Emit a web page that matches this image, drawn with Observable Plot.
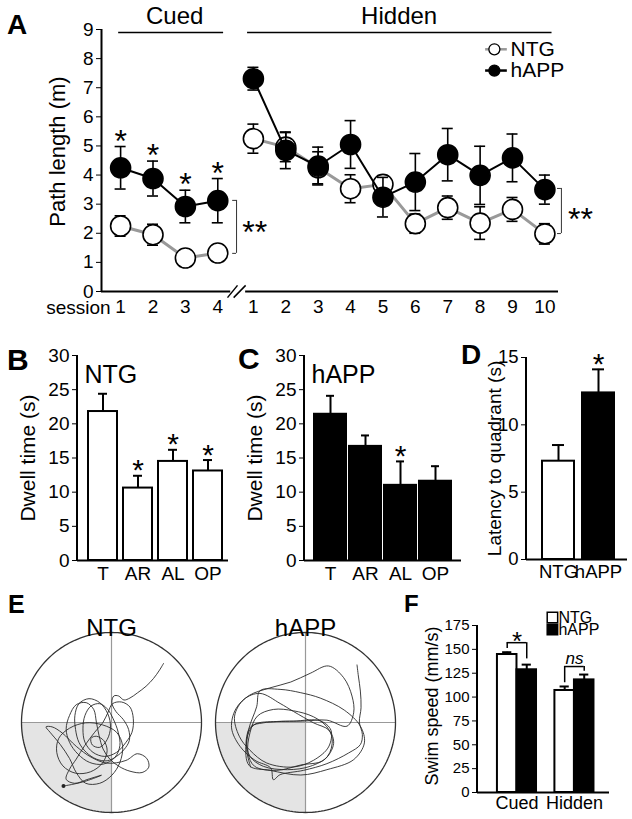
<!DOCTYPE html>
<html><head><meta charset="utf-8">
<script src="https://cdn.jsdelivr.net/npm/d3@7"></script>
<script src="https://cdn.jsdelivr.net/npm/@observablehq/plot@0.6"></script>
<style>
body{margin:0;background:#fff;}
#fig{position:relative;width:632px;height:819px;overflow:hidden;background:#fff;font-family:"Liberation Sans",Arial,Helvetica,sans-serif;}
.panel{position:absolute;}
.lbl{position:absolute;font-weight:bold;line-height:1;color:#000;}
</style></head><body><div id="fig"></div>
<script>
// ---------------- DATA ----------------
// Panel A: path length (m), mean and SEM per session
const sessionsCued = [1, 2, 3, 4];
const sessionsHidden = [1, 2, 3, 4, 5, 6, 7, 8, 9, 10];
const ntgCuedMean = [2.25, 1.95, 1.15, 1.32];
const ntgCuedSem = [0.35, 0.36, 0.06, 0.06];
const happCuedMean = [4.25, 3.88, 2.92, 3.12];
const happCuedSem = [0.73, 0.6, 0.56, 0.76];
const ntgHiddenMean = [5.25, 4.96, 4.25, 3.53, 3.68, 2.33, 2.88, 2.35, 2.82, 1.98];
const ntgHiddenSem = [0.5, 0.5, 0.55, 0.48, 0.3, 0.33, 0.4, 0.56, 0.41, 0.35];
const happHiddenMean = [7.31, 4.85, 4.31, 5.05, 3.24, 3.76, 4.7, 3.99, 4.59, 3.5];
const happHiddenSem = [0.39, 0.63, 0.65, 0.82, 0.68, 0.98, 0.9, 1.0, 0.82, 0.5];
const yTicksA = [0, 1, 2, 3, 4, 5, 6, 7, 8, 9];
const phaseLabels = ["Cued", "Hidden"];
const genotypes = ["NTG", "hAPP"];

// Panels B, C: dwell time (s) per quadrant
const quadrants = ["T", "AR", "AL", "OP"];
const ntgDwell = [21.8, 10.6, 14.5, 13.1];
const ntgDwellSem = [2.6, 1.8, 1.7, 1.6];
const ntgDwellSig = ["AR", "AL", "OP"];
const happDwell = [21.4, 16.7, 11.0, 11.6];
const happDwellSem = [2.7, 1.6, 3.5, 2.2];
const happDwellSig = ["AL"];
const yTicksDwell = [0, 5, 10, 15, 20, 25, 30];

// Panel D: latency to quadrant (s)
const latency = [7.3, 12.37];
const latencySem = [1.2, 1.75];
const latencySig = ["hAPP"];
const yTicksLatency = [0, 5, 10, 15];

// Panel F: swim speed (mm/s)
const ntgSpeed = [144.6, 106.9];
const ntgSpeedSem = [2.4, 4.2];
const happSpeed = [128.6, 118.0];
const happSpeedSem = [5.4, 5.6];
const yTicksSpeed = [0, 25, 50, 75, 100, 125, 150, 175];
const speedTests = [{phase: "Cued", text: "*", y: 157, left: 151, right: 140},
                    {phase: "Hidden", text: "ns", y: 132, left: 115, right: 127}];

// Panel E: swim tracks (arena grid units, 0 at top-left)
const ntgTrackX = [430,418,400,378,352,330,312,296,282,276,288,310,326,328,312,290,262,230,200,178,168,166,178,208,240,264,272,262,240,218,214,230,252,262,248,212,168,130,112,118,150,198,248,290,308,300,276,240,198,170,150,122,92,80,98,128,170,214,262,318,352,380,386,366,330,298,270,250,238,230,222,200,170,150,140,150,175,210,250,285,300,295,280,262,240,214,196,190,196,220,255,290,318,336,340,330,305,278,265,250,225,195,170,150,140,165,205,245,200,160,132];
const ntgTrackY = [95,115,140,163,183,198,204,192,192,212,238,262,292,325,352,372,385,380,360,330,292,250,215,200,212,245,285,322,345,338,318,312,325,355,392,418,422,400,360,318,288,272,278,300,340,390,428,452,452,420,378,336,300,284,284,302,342,374,392,384,364,378,404,420,416,402,380,350,310,270,232,212,218,250,290,330,365,390,395,375,340,300,260,230,215,222,250,290,330,360,372,360,330,300,260,225,210,215,240,270,300,340,380,410,440,452,440,428,445,455,460];
const happTrackX = [430,434,440,442,437,446,440,405,340,270,200,180,172,125,80,55,68,108,168,232,290,345,390,415,420,400,340,268,190,122,100,110,150,222,290,342,356,340,300,240,180,132,110,104,124,190,262,330,360,346,300,240,200,140,92,64,78,110,160,240,300,345,352,320,240,150,112,98,108,170,262,340,420,452,440,392,320,262,200,140,130,106,100,112];
const happTrackY = [97,130,175,225,268,305,335,360,392,412,425,440,405,382,340,285,228,188,166,148,122,100,135,190,240,280,262,265,266,276,322,370,400,410,400,370,320,282,252,234,230,250,300,360,400,412,396,382,332,292,270,236,212,182,200,250,310,352,390,402,382,342,292,264,265,270,282,332,398,412,426,410,380,330,280,232,196,180,170,174,222,290,350,402];

// ---------------- HELPERS ----------------
const FONT = '"Liberation Sans", Arial, Helvetica, sans-serif';
const fig = document.getElementById("fig");
function place(node, left, top, width) {
  const d = document.createElement("div");
  d.className = "panel";
  d.style.left = left + "px"; d.style.top = top + "px"; d.style.width = width + "px";
  d.appendChild(node); fig.appendChild(d);
}
function letter(txt, left, top, size) {
  const d = document.createElement("div");
  d.className = "lbl"; d.textContent = txt;
  d.style.left = left + "px"; d.style.top = top + "px"; d.style.fontSize = size + "px";
  fig.appendChild(d);
}
const style = (fs) => ({fontFamily: FONT, fontSize: fs + "px", color: "black", background: "transparent", overflow: "visible"});
const leftAxis = (sw) => (index, scales, values, dims) =>
  d3.create("svg:line")
    .attr("x1", dims.marginLeft).attr("x2", dims.marginLeft)
    .attr("y1", dims.marginTop).attr("y2", dims.height - dims.marginBottom + sw / 2)
    .attr("stroke", "black").attr("stroke-width", sw).node();

// ---------------- PANEL A ----------------
const HIDDEN_OFFSET = 4.1;
const rowsA = [];
function addRows(geno, phase, sessions, means, sems, offset) {
  sessions.forEach((s, i) => rowsA.push({geno, phase, session: s, pos: s + offset, mean: means[i], sem: sems[i]}));
}
addRows("NTG", "Cued", sessionsCued, ntgCuedMean, ntgCuedSem, 0);
addRows("NTG", "Hidden", sessionsHidden, ntgHiddenMean, ntgHiddenSem, HIDDEN_OFFSET);
addRows("hAPP", "Cued", sessionsCued, happCuedMean, happCuedSem, 0);
addRows("hAPP", "Hidden", sessionsHidden, happHiddenMean, happHiddenSem, HIDDEN_OFFSET);
const ntgA = rowsA.filter(d => d.geno === "NTG");
const happA = rowsA.filter(d => d.geno === "hAPP");
const CAP = 0.17;
function seriesMarks(rows, lineColor, lineWidth, fill) {
  return [
    Plot.line(rows, {x: "pos", y: "mean", z: "phase", stroke: lineColor, strokeWidth: lineWidth}),
    Plot.ruleX(rows, {x: "pos", y1: d => d.mean - d.sem, y2: d => d.mean + d.sem, stroke: "black", strokeWidth: 1.6}),
    Plot.ruleY(rows, {y: d => d.mean + d.sem, x1: d => d.pos - CAP, x2: d => d.pos + CAP, stroke: "black", strokeWidth: 1.6}),
    Plot.ruleY(rows, {y: d => d.mean - d.sem, x1: d => d.pos - CAP, x2: d => d.pos + CAP, stroke: "black", strokeWidth: 1.6}),
    Plot.dot(rows, {x: "pos", y: "mean", r: 10, fill, stroke: "black", strokeWidth: 1.6})
  ];
}
// annotation geometry (data units of panel A)
const headersA = [{label: "Cued", x1: 0.94, x2: 4.18, xc: 2.67}, {label: "Hidden", x1: 4.92, x2: 14.32, xc: 9.6}];
const axisSegA = [{x1: 0.41, x2: 4.40}, {x1: 4.86, x2: 14.52}];
const breakA = [{x1: 4.30, x2: 4.61}, {x1: 4.49, x2: 4.86}];
const bracketsA = [{x: 4.58, y1: 1.31, y2: 3.13, sx: 5.14, sy: 2.01}, {x: 14.61, y1: 1.99, y2: 3.54, sx: 15.2, sy: 2.46}];
const legendA = [{geno: "NTG", y: 8.32, stroke: "#999", fill: "white"}, {geno: "hAPP", y: 7.59, stroke: "black", fill: "black"}];

const plotA = Plot.plot({
  width: 632, height: 320, marginLeft: 101, marginRight: 74, marginTop: 29, marginBottom: 29,
  style: style(19),
  x: {domain: [0.41, 14.52], axis: null},
  y: {domain: [0, 9], ticks: yTicksA, tickSize: 5, tickPadding: 3, label: null},
  marks: [
    Plot.ruleX([0.41], {y1: 0, y2: 9, stroke: "black", strokeWidth: 2}),
    Plot.ruleY(axisSegA, {y: 0, x1: "x1", x2: "x2", stroke: "black", strokeWidth: 2}),
    Plot.link(breakA, {x1: "x1", x2: "x2", y1: -0.21, y2: 0.21, stroke: "black", strokeWidth: 1.5}),
    Plot.text(ntgA, {x: "pos", y: 0, text: d => String(d.session), dy: 15, fontSize: 19}),
    Plot.text(["session"], {x: 1, y: 0, dy: 16, dx: -10, textAnchor: "end", fontSize: 19}),
    Plot.text(["Path length (m)"], {frameAnchor: "left", textAnchor: "middle", rotate: -90, dx: -44, dy: -9, fontSize: 22}),
    Plot.ruleY(headersA, {y: 9, x1: "x1", x2: "x2", dy: 3, stroke: "black", strokeWidth: 1.5}),
    Plot.text(headersA, {x: "xc", y: 9.47, text: "label", fontSize: 24}),
    ...seriesMarks(ntgA, "#999", 3, "white"),
    ...seriesMarks(happA, "black", 2, "black"),
    Plot.text(happA.filter(d => d.phase === "Cued"), {x: "pos", y: d => d.mean + d.sem, text: () => "*", dy: -5, fontSize: 32}),
    Plot.ruleX(bracketsA, {x: "x", y1: "y1", y2: "y2", stroke: "#333", strokeWidth: 1}),
    Plot.ruleY(bracketsA, {y: "y1", x1: d => d.x - 0.12, x2: "x", stroke: "#333", strokeWidth: 1}),
    Plot.ruleY(bracketsA, {y: "y2", x1: d => d.x - 0.12, x2: "x", stroke: "#333", strokeWidth: 1}),
    Plot.text(bracketsA, {x: "sx", y: "sy", text: () => "**", fontSize: 32}),
    Plot.ruleY(legendA, {y: "y", x1: 12.27, x2: 12.94, stroke: "stroke", strokeWidth: 2.5}),
    Plot.dot(legendA, {x: 12.54, y: "y", r: 5.5, fill: "fill", stroke: "black", strokeWidth: 1.3}),
    Plot.text(legendA, {x: 13.04, y: "y", text: "geno", textAnchor: "start", fontSize: 21})
  ]
});
place(plotA, 0, 0, 632);

// ---------------- PANELS B, C ----------------
function dwellPlot(vals, sems, sig, title, fill, range, pInner, pOuter, mLeft, mRight, inset) {
  const data = quadrants.map((q, i) => ({q, v: vals[i], sem: sems[i]}));
  return Plot.plot({
    width: 232, height: 280, marginLeft: mLeft, marginRight: mRight, marginTop: 45, marginBottom: 30,
    style: style(19),
    x: {domain: quadrants, range, paddingInner: pInner, paddingOuter: pOuter, tickSize: 0, tickPadding: 6, label: null},
    y: {domain: [0, 30], ticks: yTicksDwell, tickSize: 5, tickPadding: 3, label: null},
    marks: [
      Plot.ruleX(data, {x: "q", y1: "v", y2: d => d.v + d.sem, stroke: "black", strokeWidth: 2}),
      Plot.tickY(data, {x: "q", y: d => d.v + d.sem, inset, stroke: "black", strokeWidth: 2}),
      Plot.barY(data, {x: "q", y: "v", fill, stroke: "black", strokeWidth: 2}),
      Plot.text(data.filter(d => sig.includes(d.q)), {x: "q", y: d => d.v + d.sem, text: () => "*", dy: -5, fontSize: 30}),
      Plot.ruleY([0], {stroke: "black", strokeWidth: 2}),
      leftAxis(2),
      Plot.text([title], {frameAnchor: "top-left", dx: 7, dy: 10, textAnchor: "start", fontSize: 25}),
      Plot.text(["Dwell time (s)"], {frameAnchor: "left", textAnchor: "middle", rotate: -90, dx: -49, fontSize: 21})
    ]
  });
}
place(dwellPlot(ntgDwell, ntgDwellSem, ntgDwellSig, "NTG", "white", [85.2, 225.2], 0.16, 0.08, 77, 4, 10), 0, 310, 232);
place(dwellPlot(happDwell, happDwellSem, happDwellSig, "hAPP", "black", [79, 222], 0.08, 0.05, 72, 3, 12), 232, 310, 232);

// ---------------- PANEL D ----------------
const dataD = genotypes.map((g, i) => ({g, v: latency[i], sem: latencySem[i]}));
const plotD = Plot.plot({
  width: 168, height: 280, marginLeft: 62, marginRight: 5, marginTop: 47, marginBottom: 31,
  style: style(18.5),
  x: {domain: genotypes, range: [76, 152], paddingInner: 0.2, paddingOuter: 0.05, tickSize: 0, tickPadding: 5, label: null},
  y: {domain: [0, 15], ticks: yTicksLatency, tickSize: 5, tickPadding: 3, label: null},
  marks: [
    Plot.ruleX(dataD, {x: "g", y1: "v", y2: d => d.v + d.sem, stroke: "black", strokeWidth: 2}),
    Plot.tickY(dataD, {x: "g", y: d => d.v + d.sem, inset: 10, stroke: "black", strokeWidth: 2}),
    Plot.barY(dataD, {x: "g", y: "v", fill: d => d.g === "NTG" ? "white" : "black", stroke: "black", strokeWidth: 2}),
    Plot.text(dataD.filter(d => latencySig.includes(d.g)), {x: "g", y: d => d.v + d.sem, text: () => "*", dy: -5, fontSize: 30}),
    Plot.ruleY([0], {stroke: "black", strokeWidth: 2}),
    leftAxis(2),
    Plot.text(["Latency to quadrant (s)"], {frameAnchor: "left", textAnchor: "middle", rotate: -90, dx: -32, fontSize: 19})
  ]
});
place(plotD, 464, 310, 168);

// ---------------- PANEL E ----------------
function arena(trackX, trackY, cx, cy, R, title, endDot) {
  const track = trackX.map((x, i) => ({x, y: trackY[i]}));
  const shade = d3.range(cx - R, cx + 0.001, R / 80).map(x => ({x, y1: cy, y2: cy + Math.sqrt(Math.max(0, R * R - (x - cx) ** 2))}));
  const ring = d3.range(0, 361, 2).map(a => ({x: cx + R * Math.cos(a * Math.PI / 180), y: cy + R * Math.sin(a * Math.PI / 180)}));
  return Plot.plot({
    width: 182, height: 182, marginLeft: 1, marginRight: 1, marginTop: 1, marginBottom: 1,
    style: style(24),
    x: {domain: [cx - R, cx + R], axis: null},
    y: {domain: [cy + R, cy - R], axis: null},
    marks: [
      Plot.areaY(shade, {x: "x", y1: "y1", y2: "y2", fill: "#e4e4e4"}),
      Plot.ruleX([cx], {y1: cy - R, y2: cy + R, stroke: "#999", strokeWidth: 1.2}),
      Plot.ruleY([cy], {x1: cx - R, x2: cx + R, stroke: "#999", strokeWidth: 1.2}),
      Plot.line(track, {x: "x", y: "y", stroke: "#2a2a2a", strokeWidth: 0.9, curve: "catmull-rom"}),
      endDot ? Plot.dot(track.slice(-1), {x: "x", y: "y", r: 2, fill: "#222"}) : null,
      Plot.line(ring, {x: "x", y: "y", stroke: "#333", strokeWidth: 1.3}),
      Plot.text([title], {frameAnchor: "top", dy: -14, fontSize: 24})
    ]
  });
}
place(arena(ntgTrackX, ntgTrackY, 275, 271, 268, "NTG", true), 20, 631, 182);
place(arena(happTrackX, happTrackY, 276, 269, 269, "hAPP", false), 214, 631, 182);

// ---------------- PANEL F ----------------
const phasePos = {Cued: 1, Hidden: 2};
const BW = 0.34;
const dataF = [];
phaseLabels.forEach((p, i) => {
  dataF.push({phase: p, geno: "NTG", v: ntgSpeed[i], sem: ntgSpeedSem[i], x1: phasePos[p] - BW, x2: phasePos[p]});
  dataF.push({phase: p, geno: "hAPP", v: happSpeed[i], sem: happSpeedSem[i], x1: phasePos[p], x2: phasePos[p] + BW});
});
const legendF = [{geno: "NTG", y: 183.4, fill: "white"}, {geno: "hAPP", y: 170.9, fill: "black"}];
const plotF = Plot.plot({
  width: 232, height: 219, marginLeft: 77, marginRight: 23, marginTop: 25, marginBottom: 27,
  style: style(15),
  x: {domain: [0.313, 2.61], axis: null},
  y: {domain: [0, 175], ticks: yTicksSpeed, tickSize: 5, tickPadding: 3, label: null},
  marks: [
    Plot.ruleX(dataF, {x: d => (d.x1 + d.x2) / 2, y1: "v", y2: d => d.v + d.sem, stroke: "black", strokeWidth: 2}),
    Plot.ruleY(dataF, {y: d => d.v + d.sem, x1: d => (d.x1 + d.x2) / 2 - 0.08, x2: d => (d.x1 + d.x2) / 2 + 0.08, stroke: "black", strokeWidth: 2}),
    Plot.rectY(dataF, {x1: "x1", x2: "x2", y: "v", fill: d => d.geno === "NTG" ? "white" : "black", stroke: "black", strokeWidth: 2}),
    Plot.ruleY([0], {stroke: "black", strokeWidth: 2}),
    leftAxis(2),
    Plot.text(phaseLabels, {x: d => phasePos[d], y: 0, dy: 11, fontSize: 18}),
    Plot.text(["Swim speed (mm/s)"], {frameAnchor: "left", textAnchor: "middle", rotate: -90, dx: -45, dy: -3, fontSize: 18}),
    Plot.ruleY(speedTests, {y: "y", x1: d => phasePos[d.phase] - BW / 2, x2: d => phasePos[d.phase] + BW / 2, stroke: "black", strokeWidth: 1.5}),
    Plot.ruleX(speedTests, {x: d => phasePos[d.phase] - BW / 2, y1: "y", y2: "left", stroke: "black", strokeWidth: 1.5}),
    Plot.ruleX(speedTests, {x: d => phasePos[d.phase] + BW / 2, y1: "y", y2: "right", stroke: "black", strokeWidth: 1.5}),
    Plot.text(speedTests.filter(d => d.text === "*"), {x: d => phasePos[d.phase], y: "y", text: "text", dy: -1, fontSize: 26}),
    Plot.text(speedTests.filter(d => d.text !== "*"), {x: d => phasePos[d.phase], y: "y", text: "text", dy: -8, fontSize: 17, fontStyle: "italic"}),
    Plot.dot(legendF, {x: 1.617, y: "y", symbol: "square", r: 5.9, fill: "fill", stroke: "black", strokeWidth: 1.5}),
    Plot.text(legendF, {x: 1.722, y: "y", text: "geno", textAnchor: "start", fontSize: 16})
  ]
});
place(plotF, 400, 600, 232);

// ---------------- PANEL LETTERS ----------------
letter("A", 7, 11, 28);
letter("B", 7, 345, 30);
letter("C", 238, 344, 30);
letter("D", 461, 341, 28);
letter("E", 8, 592, 25);
letter("F", 404, 592, 24);
</script></body></html>
